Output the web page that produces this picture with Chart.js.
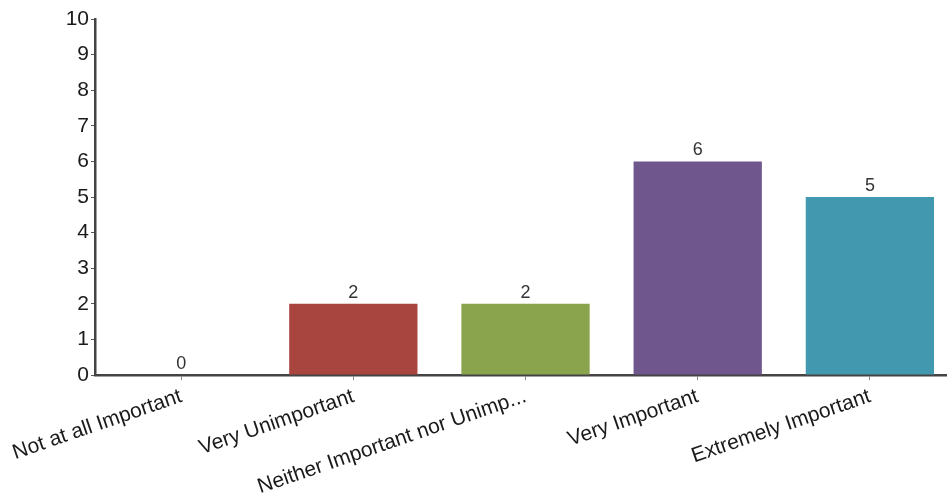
<!DOCTYPE html>
<html>
<head>
<meta charset="utf-8">
<script src="https://cdn.jsdelivr.net/npm/chart.js@4.4.1/dist/chart.umd.min.js"></script>
<style>
  html, body { margin: 0; padding: 0; background: #fff; }
  #wrap { width: 947px; height: 500px; overflow: hidden; }
</style>
</head>
<body>
<div id="wrap"><canvas id="myChart" width="960" height="500"></canvas></div>
<script>
var categories = ["Not at all Important", "Very Unimportant", "Neither Important nor Unimp...", "Very Important", "Extremely Important"];
var counts = [0, 2, 2, 6, 5];
var barColors = ['#4f81bd', '#a9453f', '#89a44c', '#6f568d', '#4298af'];
var yTicks = [0, 1, 2, 3, 4, 5, 6, 7, 8, 9, 10];

// writes the count above each bar
var valueLabels = {
    id: 'valueLabels',
    afterDatasetsDraw: function(chart) {
        var ctx = chart.ctx;
        var meta = chart.getDatasetMeta(0);
        var yScale = chart.scales.y;
        ctx.save();
        ctx.font = '18px "Liberation Sans", Arial, sans-serif';
        ctx.fillStyle = '#333';
        ctx.textAlign = 'center';
        ctx.textBaseline = 'bottom';
        meta.data.forEach(function(bar, i) {
            ctx.fillText(String(counts[i]), bar.x, yScale.getPixelForValue(counts[i]) - 2);
        });
        ctx.restore();
    }
};

var ctx = document.getElementById("myChart").getContext('2d');
var myChart = new Chart(ctx, {
    type: 'bar',
    data: {
        labels: categories,
        datasets: [{
            data: counts,
            backgroundColor: barColors,
            borderWidth: 0,
            barPercentage: 0.745,
            categoryPercentage: 1
        }]
    },
    plugins: [valueLabels],
    options: {
        responsive: false,
        animation: false,
        layout: { padding: { top: 19, right: 4, left: 0, bottom: 0 } },
        plugins: {
            legend: { display: false },
            tooltip: { enabled: false }
        },
        scales: {
            y: {
                min: 0,
                max: 10,
                afterFit: function(scale) { scale.width = 94; },
                afterBuildTicks: function(scale) {
                    scale.ticks = yTicks.map(function(v) { return { value: v }; });
                },
                grid: { drawOnChartArea: false, tickLength: 4, color: '#555' },
                border: { color: '#444', width: 2.5 },
                ticks: {
                    color: '#1a1a1a',
                    padding: 2,
                    font: { family: '"Liberation Sans", Arial, sans-serif', size: 21 }
                }
            },
            x: {
                afterFit: function(scale) { scale.height = 125; },
                grid: { drawOnChartArea: false, tickLength: 5, color: '#888', offset: false },
                border: { color: '#444', width: 2.5 },
                ticks: {
                    color: '#1a1a1a',
                    autoSkip: false,
                    minRotation: 19,
                    maxRotation: 19,
                    padding: 4,
                    font: { family: '"Liberation Sans", Arial, sans-serif', size: 21 }
                }
            }
        }
    }
});
</script>
</body>
</html>
